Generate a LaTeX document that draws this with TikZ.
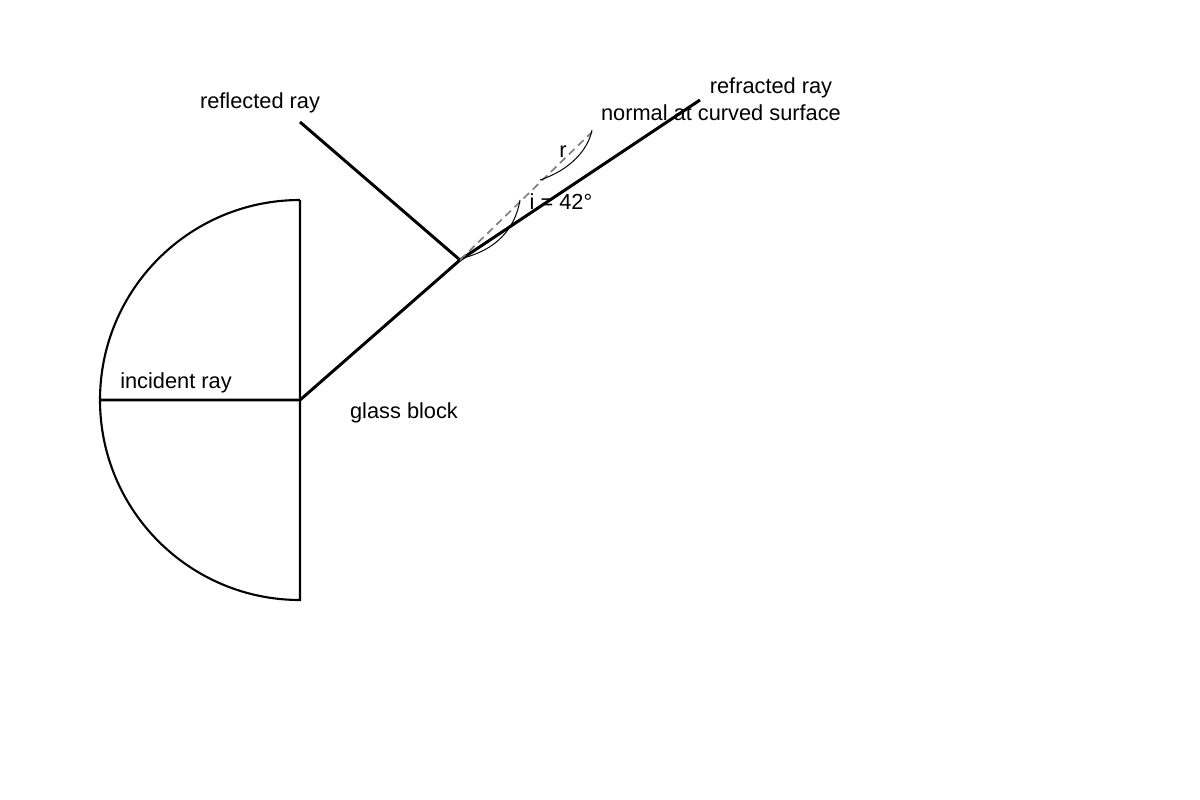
\documentclass[tikz,border=0pt]{standalone}
\usepackage{fontspec}
\setmainfont{Liberation Sans}
\usetikzlibrary{calc}

\begin{document}
\begin{tikzpicture}[
        x=0.05cm, y=-0.05cm,
        ray/.style={line width=4.2pt},
        block/.style={line width=3pt},
        normal line/.style={gray, line width=2.4pt, dash pattern=on 11pt off 7pt},
        angle arc/.style={line width=1.4pt},
        every node/.style={color=black, font=\fontsize{31}{36}\selectfont, inner sep=0pt},
    ]
    \useasboundingbox (0,0) rectangle (1200,800);

    % glass block
    \draw[block] (300,200) coordinate (top) arc[start angle=270, end angle=90, radius=200]
        coordinate (bot) -- (top);

    \coordinate (src) at (100,400);
    \coordinate (entry) at (300,400);
    \coordinate (hit) at (460,260);
    \coordinate (refl) at (300,122);
    \coordinate (refr) at (700,100);
    \coordinate (nrm) at (592,132);

    \draw[ray] (src) -- (entry) -- (hit);
    \draw[ray] (hit) -- (refl);
    \draw[ray] (hit) -- (refr);
    \draw[normal line] (hit) -- (nrm);

    % angles
    \draw[angle arc] (463,258) .. controls (495,250) and (515,230) .. (520,200);
    \draw[angle arc] (540,180) .. controls (570,170) and (588,150) .. (592,130);

    \node (reflLbl) at (260,103) {reflected ray};
    \node (refrLbl) at (771,88) {refracted ray};
    \node (nrmLbl) at (721,113) {normal at curved surface};
    \node (rLbl) at (563,152) {r};
    \node (iLbl) at (561,202) {i = 42°};
    \node (incLbl) at (176,383) {incident ray};
    \node (blkLbl) at (404,413) {glass block};
\end{tikzpicture}
\end{document}
